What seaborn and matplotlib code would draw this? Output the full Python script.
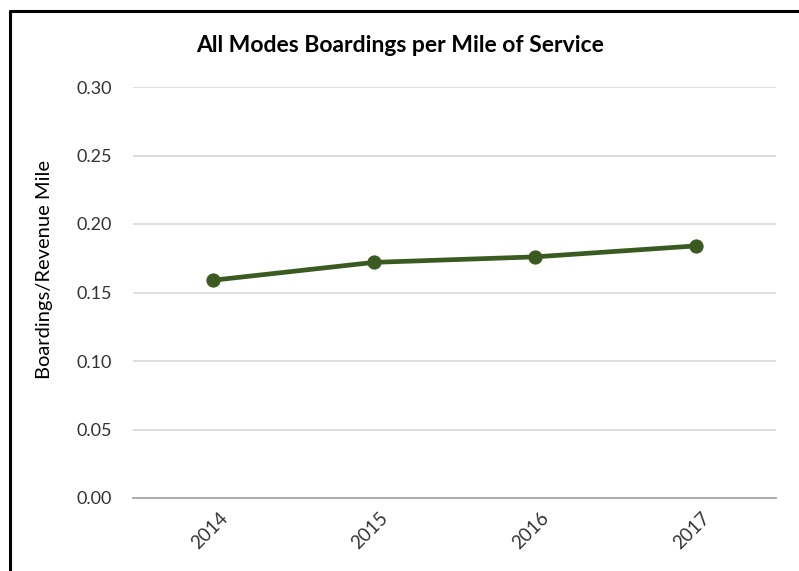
import matplotlib
matplotlib.use("Agg")
import matplotlib.pyplot as plt
from matplotlib.lines import Line2D
import matplotlib.transforms as mtransforms
import seaborn as sns
import pandas as pd

years = ["2014", "2015", "2016", "2017"]
boardings_per_mile = [0.159, 0.172, 0.176, 0.184]
y_ticks = [0.00, 0.05, 0.10, 0.15, 0.20, 0.25, 0.30]
title = "All Modes Boardings per Mile of Service"
y_label = "Boardings/Revenue Mile"

sns.set_theme(style="white")
plt.rcParams["font.family"] = ["Lato", "DejaVu Sans"]

df = pd.DataFrame({"Year": years, "Value": boardings_per_mile})

fig = plt.figure(figsize=(7.99, 5.71), dpi=100)
ax = fig.add_axes([133 / 799, 1 - 498 / 571, (776 - 133) / 799, (498 - 87) / 571])

line_color = "#3a5a22"
sns.lineplot(data=df, x="Year", y="Value", ax=ax, color=line_color, linewidth=3.4,
             marker="o", markersize=9.5, markeredgecolor=line_color, markerfacecolor=line_color,
             sort=False)

ax.set_ylim(0, 0.30)
ax.set_xlim(-0.5, len(years) - 0.5)
ax.set_yticks(y_ticks)
ax.set_yticklabels([f"{v:.2f}" for v in y_ticks], fontsize=13, color="#333333")
ax.yaxis.grid(True, color="#d9d9d9", linewidth=1.2)
ax.xaxis.grid(False)
ax.tick_params(axis="y", length=0, pad=15)

ax.set_xticks(range(len(years)))
ax.set_xticklabels(years, rotation=45, ha="center", va="top",
                   fontsize=13.5, color="#333333")
ax.tick_params(axis="x", which="major", length=0, pad=8)
ax.set_xticks([i - 0.5 for i in range(len(years) + 1)], minor=True)
ax.tick_params(axis="x", which="minor", direction="in", length=5, width=1.3, color="#a6a6a6")
shift = mtransforms.ScaledTranslation(-4 / 100, 0, fig.dpi_scale_trans)
for lbl in ax.get_xticklabels():
    lbl.set_transform(lbl.get_transform() + shift)

for side in ["top", "right", "left"]:
    ax.spines[side].set_visible(False)
ax.spines["bottom"].set_color("#a6a6a6")
ax.spines["bottom"].set_linewidth(1.3)

ax.set_xlabel("")
ax.set_ylabel(y_label, fontsize=14.5, color="#000000")
ax.yaxis.set_label_coords(-0.124, 0.555)

fig.text(400 / 799, 1 - 45 / 571, title, ha="center", va="center",
         fontsize=16.5, fontweight="bold", color="#000000")

fig.add_artist(Line2D([9.5 / 799, 1.0], [1 - 10.5 / 571, 1 - 10.5 / 571],
                      transform=fig.transFigure, color="black", linewidth=2.2))
fig.add_artist(Line2D([9.5 / 799, 9.5 / 799], [0, 1 - 10.5 / 571],
                      transform=fig.transFigure, color="black", linewidth=2.2))

fig.savefig("out.png", dpi=100, facecolor="white")
